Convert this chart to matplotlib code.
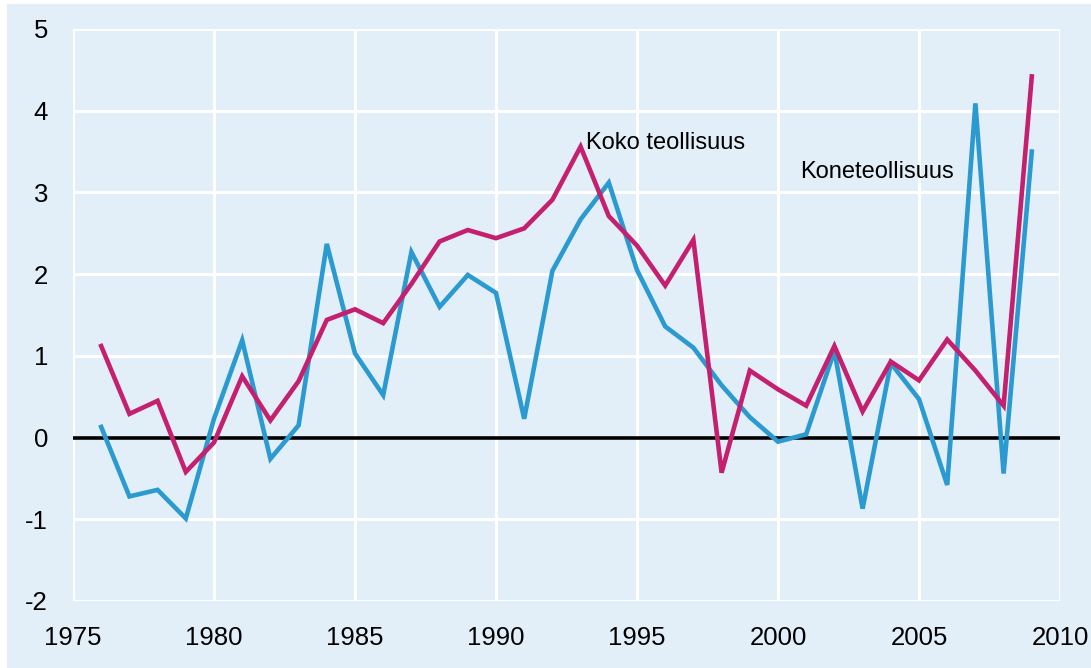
import matplotlib
matplotlib.use("Agg")
import matplotlib.pyplot as plt
from matplotlib.patches import Rectangle

years = list(range(1976, 2010))
koneteollisuus = [0.13, -0.72, -0.64, -0.99, 0.23, 1.19, -0.26, 0.15, 2.37, 1.03,
                  0.52, 2.27, 1.60, 1.99, 1.77, 0.23, 2.04, 2.67, 3.12, 2.05,
                  1.36, 1.10, 0.64, 0.25, -0.05, 0.04, 1.06, -0.87, 0.91, 0.47,
                  -0.58, 4.09, -0.44, 3.50]
koko_teollisuus = [1.12, 0.29, 0.45, -0.42, -0.06, 0.75, 0.21, 0.69, 1.44, 1.57,
                   1.40, 1.88, 2.40, 2.54, 2.44, 2.56, 2.91, 3.56, 2.71, 2.35,
                   1.86, 2.42, -0.43, 0.82, 0.59, 0.39, 1.12, 0.32, 0.93, 0.70,
                   1.20, 0.82, 0.39, 4.42]
x_ticks = [1975, 1980, 1985, 1990, 1995, 2000, 2005, 2010]
y_ticks = [-2, -1, 0, 1, 2, 3, 4, 5]

BG = "#e2eff8"
BLUE = "#2a9ad0"
MAGENTA = "#c4206f"

plt.rcParams['font.family'] = ['Liberation Sans', 'DejaVu Sans']
plt.rcParams['axes.unicode_minus'] = False

fig = plt.figure(figsize=(10.91, 6.68), dpi=100)
fig.patch.set_facecolor("white")
bg = Rectangle((7/1091, 0), 1 - 7/1091, 1 - 4/668,
               transform=fig.transFigure, facecolor=BG,
               edgecolor="none", zorder=-10)
fig.add_artist(bg)

ax = fig.add_axes([73/1091, 1 - 601/668, (1060 - 73)/1091, (601 - 29)/668])
ax.set_zorder(1)
ax.set_facecolor(BG)
ax.set_xlim(1975, 2010)
ax.set_ylim(-2, 5)
ax.set_xticks(x_ticks)
ax.set_yticks(y_ticks)
ax.grid(True, color="white", linewidth=2.2)
ax.set_axisbelow(True)
for s in ax.spines.values():
    s.set_visible(False)
ax.tick_params(length=0, labelsize=18.5, colors="black")
ax.tick_params(axis='y', pad=18)
ax.tick_params(axis='x', pad=18)

ax.axhline(0, color="black", linewidth=2.6, zorder=2)
ax.plot(years, koneteollisuus, color=BLUE, linewidth=3.3, zorder=3,
        solid_joinstyle="miter")
ax.plot(years, koko_teollisuus, color=MAGENTA, linewidth=3.3, zorder=4,
        solid_joinstyle="miter")

ax.text(1993.2, 3.6, "Koko teollisuus", fontsize=17, va="center", ha="left")
ax.text(2000.8, 3.25, "Koneteollisuus", fontsize=17, va="center", ha="left")

fig.savefig("out.png", dpi=100, facecolor=fig.get_facecolor())
